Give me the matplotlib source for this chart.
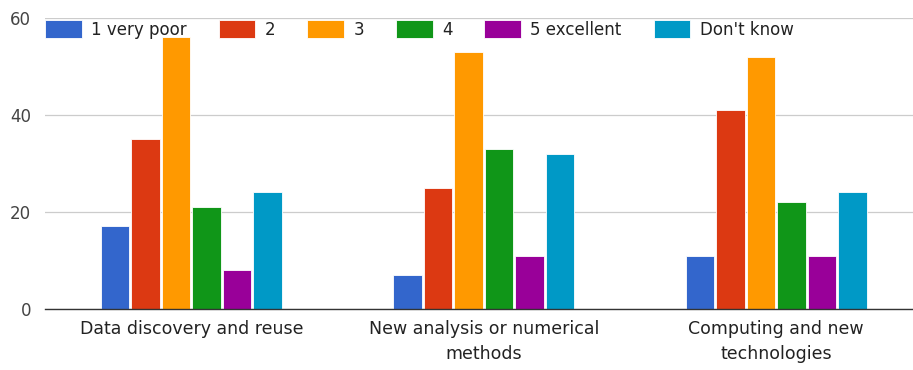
import numpy as np
import matplotlib.pyplot as plt

categories = ["Data discovery and reuse",
              "New analysis or numerical\nmethods",
              "Computing and new\ntechnologies"]
series = ["1 very poor", "2", "3", "4", "5 excellent", "Don't know"]
very_poor = [17, 7, 11]
two = [35, 25, 41]
three = [56, 53, 52]
four = [21, 33, 22]
excellent = [8, 11, 11]
dont_know = [24, 32, 24]
values = [very_poor, two, three, four, excellent, dont_know]
colors = ["#3366cc", "#dc3912", "#ff9900", "#109618", "#990099", "#0099c6"]

fig = plt.figure(figsize=(9.13, 3.7), dpi=100)
ax = fig.add_axes([45 / 913, 61 / 370, 877.5 / 913, 291.3 / 370])

x = np.arange(len(categories))
pitch = 0.1043
width = 0.0974
bars = []
for j, (name, vals, c) in enumerate(zip(series, values, colors)):
    b = ax.bar(x + (j - 2.5) * pitch, vals, width, color=c,
               edgecolor="white", linewidth=0.6, label=name, zorder=3)
    bars.append(b)

ax.set_xlim(-0.5, 2.5)
ax.set_ylim(0, 60)
ax.set_yticks([0, 20, 40, 60])
ax.set_xticks(x)
ax.set_xticklabels(categories, linespacing=1.5)
ax.tick_params(axis="x", length=0, pad=8, labelsize=12.5, labelcolor="#222222")
ax.tick_params(axis="y", length=0, pad=10, labelsize=12, labelcolor="#444444")
ax.grid(axis="y", color="#cccccc", linewidth=0.9, zorder=0)
ax.set_axisbelow(True)
for s in ["top", "right", "left"]:
    ax.spines[s].set_visible(False)
ax.spines["bottom"].set_color("#333333")
ax.spines["bottom"].set_linewidth(1.0)
ax.spines["bottom"].set_zorder(4)

ax.legend(handles=bars, loc="center left",
          bbox_to_anchor=(45 / 913, 1 - 29.5 / 370),
          bbox_transform=fig.transFigure, ncol=6, frameon=False,
          fontsize=12, borderpad=0, borderaxespad=0,
          handlelength=2.2, handleheight=1.25, handletextpad=0.56,
          columnspacing=1.92, labelcolor="#222222")

fig.savefig("out.png", dpi=100)
